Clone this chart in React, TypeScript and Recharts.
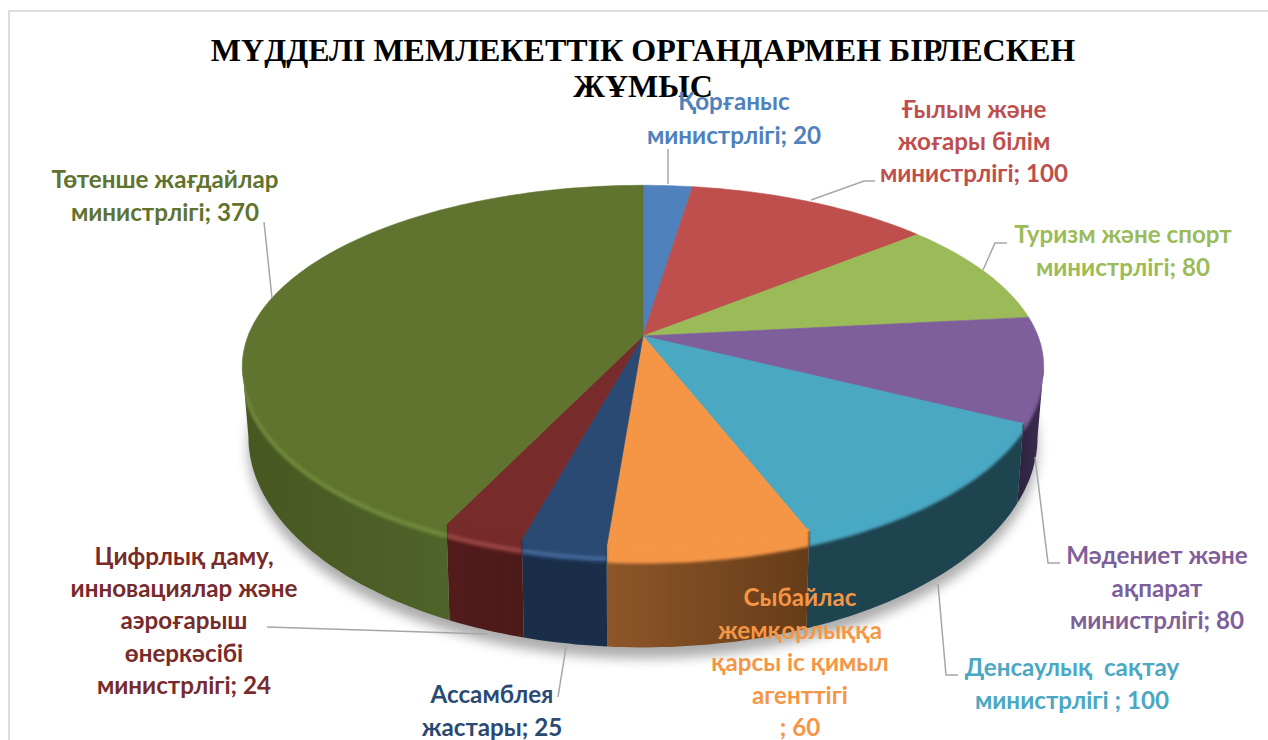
import { PieChart, Pie } from "recharts";

const VALUES = [20, 100, 80, 80, 100, 60, 25, 24, 370];
const NAMES = [
  "Қорғаныс министрлігі",
  "Ғылым және жоғары білім министрлігі",
  "Туризм және спорт министрлігі",
  "Мәдениет және ақпарат министрлігі",
  "Денсаулық сақтау министрлігі",
  "Сыбайлас жемқорлыққа қарсы іс қимыл агенттігі",
  "Ассамблея жастары",
  "Цифрлық даму, инновациялар және аэроғарыш өнеркәсібі министрлігі",
  "Төтенше жағдайлар министрлігі",
];
const LABEL_LINES = [
  ["Қорғаныс", "министрлігі"],
  ["Ғылым және", "жоғары білім", "министрлігі"],
  ["Туризм және спорт", "министрлігі"],
  ["Мәдениет және", "ақпарат", "министрлігі"],
  ["Денсаулық  сақтау", "министрлігі "],
  ["Сыбайлас", "жемқорлыққа", "қарсы іс қимыл", "агенттігі", ""],
  ["Ассамблея", "жастары"],
  ["Цифрлық даму,", "инновациялар және", "аэроғарыш", "өнеркәсібі", "министрлігі"],
  ["Төтенше жағдайлар", "министрлігі"],
];
const TITLE_LINES = ["МҮДДЕЛІ МЕМЛЕКЕТТІК ОРГАНДАРМЕН БІРЛЕСКЕН", "ЖҰМЫС"];

const TOP_COLORS = ["#4F81BD", "#BE4F4C", "#9BBB59", "#7F5F9B", "#4AA8C3", "#F59646", "#2A4A73", "#772B2B", "#60732F"];
const WALL_LEFT = ["#2F4D71", "#72302E", "#5D7035", "#2E2341", "#1E4450", "#8E5629", "#1A2E49", "#521C1B", "#47571F"];
const WALL_RIGHT = ["#2F4D71", "#72302E", "#5D7035", "#3A2C50", "#1E4450", "#663C18", "#1A2E49", "#4C1A19", "#50632A"];
const RIM_LIGHT = ["", "", "", "", "", "", "#4A70A0", "#A04E4E", "#74913F"];

// label anchor: centre x, first baseline, line step
const LABEL_POS = [
  [734, 110, 34],
  [974, 118, 32],
  [1123, 243, 33],
  [1157, 564, 32.5],
  [1072, 676, 33],
  [800, 606, 32.5],
  [492, 703, 33],
  [184, 565, 32.2],
  [165, 188, 33],
];
const LEADERS = [
  "668,184 668,149",
  "811,200 864,181 875,181",
  "983,270 995,243 1007,243",
  "1035,457 1048,563 1060,563",
  "938,584 946,675 958,675",
  "",
  "566,647 558,697",
  "487,634 267,627",
  "272,298 264,222",
];

const chartData = VALUES.map((value, i) => ({ name: NAMES[i], value }));

// perspective projection of the pie disc, fitted to the picture
const K = 0.168;
const TOP = { cy: 336, rx: 395, ry: 176 };
const BOTTOM = { cy: 401, rx: 389, ry: 205 };
const RAD = Math.PI / 180;

const project = (cx: number, deg: number, p: { cy: number; rx: number; ry: number }) => {
  const u = Math.cos(deg * RAD);
  const v = Math.sin(deg * RAD);
  const w = 1 + K * v;
  return [cx + (p.rx * u) / w, p.cy - (p.ry * v) / w];
};

// drop: how far the point moves down at the very front of the disc
const arcPoints = (cx: number, from: number, to: number, p: any, drop = 0, base = 0) => {
  const n = Math.max(2, Math.ceil(Math.abs(from - to)));
  const out: string[] = [];
  for (let i = 0; i <= n; i++) {
    const deg = from + ((to - from) * i) / n;
    const [x, y] = project(cx, deg, p);
    const dy = base + drop * Math.max(0, -Math.sin(deg * RAD));
    out.push(`${x.toFixed(1)},${(y + dy).toFixed(1)}`);
  }
  return out;
};

// front part of the rim, in recharts degrees (v < -K)
const FRONT_START = -9.67;
const FRONT_END = -170.33;

const Slice = (props: any) => {
  const { cx, startAngle, endAngle, index } = props;
  const i = index ?? 0;
  const top = TOP_COLORS[i];
  const rim = arcPoints(cx, startAngle, endAngle, TOP);
  const a = Math.min(startAngle, FRONT_START);
  const b = Math.max(endAngle, FRONT_END);
  const hasWall = a > b;
  return (
    <g>
      <polygon points={[`${cx},${TOP.cy}`, ...rim].join(" ")} fill={top} stroke={top} strokeWidth={0.6} />
      {hasWall && (
        <g>
          <defs>
            <linearGradient id={`wall-${i}`} x1="0" y1="0" x2="1" y2="0">
              <stop offset="0" stopColor={WALL_LEFT[i]} />
              <stop offset="1" stopColor={WALL_RIGHT[i]} />
            </linearGradient>
            <clipPath id={`wallClip-${i}`}>
              <polygon points={[...arcPoints(cx, a, b, TOP, 0, -3), ...arcPoints(cx, b, a, BOTTOM)].join(" ")} />
            </clipPath>
          </defs>
          <polygon
            points={[...arcPoints(cx, a, b, TOP), ...arcPoints(cx, b, a, BOTTOM)].join(" ")}
            fill={`url(#wall-${i})`}
          />
          <g clipPath={`url(#wallClip-${i})`}>
            <polygon
              points={[...arcPoints(cx, a, b, TOP, 0, -4), ...arcPoints(cx, b, a, TOP, 14, 2)].join(" ")}
              fill={top}
              filter="url(#rimBlur)"
            />
            {RIM_LIGHT[i] && (
              <polyline
                points={arcPoints(cx, a, b, TOP, 10, 2).join(" ")}
                fill="none"
                stroke={RIM_LIGHT[i]}
                strokeOpacity={0.85}
                strokeWidth={3.5}
                filter="url(#rimBlur)"
              />
            )}
          </g>
        </g>
      )}
    </g>
  );
};

// soft shadow under the disc
const BaseShadow = (props: any) => {
  const { cx } = props;
  return (
    <g>
      <defs>
        <filter id="rimBlur" x="-20%" y="-20%" width="140%" height="140%">
          <feGaussianBlur stdDeviation="1.4" />
        </filter>
        <filter id="discShadow" x="-10%" y="-10%" width="120%" height="120%">
          <feGaussianBlur stdDeviation="6" />
        </filter>
      </defs>
      <polygon
        points={arcPoints(cx, 0, -360, BOTTOM, 0, 11).join(" ")}
        fill="#000000"
        fillOpacity={0.32}
        filter="url(#discShadow)"
      />
    </g>
  );
};

const SliceLabel = (props: any) => {
  const i = props.index;
  const [x, y, step] = LABEL_POS[i];
  const lines = LABEL_LINES[i];
  const color = TOP_COLORS[i];
  return (
    <g>
      {LEADERS[i] && <polyline points={LEADERS[i]} fill="none" stroke="#A6A6A6" strokeWidth={1.5} />}
      <text
        textAnchor="middle"
        fill={color}
        fontFamily="Lato, 'Open Sans', sans-serif"
        fontWeight={700}
        fontSize={24.2}
        style={{ whiteSpace: "pre" }}
      >
        {lines.map((line, n) => (
          <tspan key={n} x={x} y={y + n * step}>
            {n === lines.length - 1 ? `${line}; ${VALUES[i]}` : line}
          </tspan>
        ))}
      </text>
    </g>
  );
};

export default function App() {
  return (
    <div style={{ position: "fixed", left: 0, top: 0, width: 1268, height: 740, overflow: "hidden", background: "#fff" }}>
      <div
        style={{
          position: "absolute",
          left: 8,
          top: 10,
          width: 1268,
          height: 740,
          borderTop: "2px solid #DDDDDD",
          borderLeft: "2px solid #DDDDDD",
        }}
      />
      <div style={{ position: "absolute", left: 0, top: 0 }}>
        <PieChart width={1268} height={740} margin={{ top: 0, right: 0, bottom: 0, left: 0 }}>
          <Pie
            data={[{ name: "base", value: 1 }]}
            dataKey="value"
            cx={643}
            cy={336}
            outerRadius={395}
            startAngle={90}
            endAngle={-270}
            shape={BaseShadow}
            isAnimationActive={false}
            stroke="none"
          />
          <Pie
            data={chartData}
            dataKey="value"
            nameKey="name"
            cx={643}
            cy={336}
            outerRadius={395}
            startAngle={90}
            endAngle={-270}
            shape={Slice}
            label={SliceLabel}
            labelLine={false}
            isAnimationActive={false}
            stroke="none"
          />
          <text textAnchor="middle" fontFamily="'Liberation Serif', serif" fontWeight={700} fontSize={32} fill="#000">
            <tspan x={643} y={61}>{TITLE_LINES[0]}</tspan>
            <tspan x={643} y={97}>{TITLE_LINES[1]}</tspan>
          </text>
        </PieChart>
      </div>
    </div>
  );
}
